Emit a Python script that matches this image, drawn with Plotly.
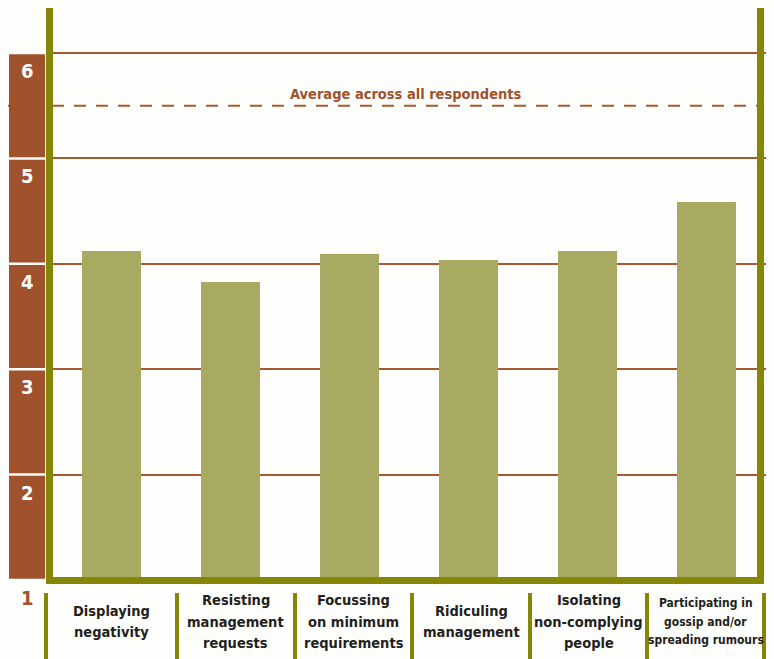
import plotly.graph_objects as go

categories = ["Displaying<br>negativity",
              "Resisting<br>management<br>requests",
              "Focussing<br>on minimum<br>requirements",
              "Ridiculing<br>management",
              "Isolating<br>non-complying<br>people",
              "Participating in<br>gossip and/or<br>spreading rumours"]
values = [4.12, 3.83, 4.09, 4.04, 4.12, 4.59]
average_value = 5.5
average_label = "Average across all respondents"
y_ticks = [1, 2, 3, 4, 5, 6]

W, H = 774, 659
L, R, T, B = 52, 8, 8, 79
PW, PH = W - L - R, H - T - B

def px_x(px):
    return (px - L) / PW

def px_y(py):
    return (H - B - py) / PH

BROWN = "#A0522D"
GRID = "#A65A2E"
OLIVE = "#868606"
BAR = "#A9AA62"
BG = "#FEFEFC"
TEXT = "#231F20"
FONT = "DejaVu Sans Condensed, Liberation Sans Narrow, sans-serif"

xs = list(range(len(categories)))

fig = go.Figure()
fig.add_trace(go.Bar(x=xs, y=values, width=0.5, marker=dict(color=BAR, line=dict(width=0)),
                     hoverinfo="skip"))

shapes = []
annotations = []

# dashed average line (under the brown boxes)
shapes.append(dict(type="line", xref="paper", yref="y", x0=px_x(8), x1=px_x(764),
                   y0=average_value, y1=average_value, layer="above",
                   line=dict(color=GRID, width=2, dash="12px,10px")))
annotations.append(dict(x=px_x(406), y=average_value, xref="paper", yref="y",
                        text=average_label, showarrow=False, yshift=12, xanchor="center",
                        font=dict(family=FONT, size=14.5, color=BROWN, weight="bold")))

# brown tick boxes
for n in y_ticks:
    if n > 1:
        shapes.append(dict(type="rect", xref="paper", yref="y", x0=px_x(9), x1=px_x(45),
                           y0=n - 1 + 0.012, y1=n - 0.012, fillcolor=BROWN,
                           line=dict(width=0), layer="above"))
    annotations.append(dict(x=px_x(27), y=n, xref="paper", yref="y", text=str(n),
                            showarrow=False, yanchor="middle", xanchor="center", yshift=-18,
                            font=dict(family=FONT, size=20,
                                      color="white" if n > 1 else BROWN, weight="bold")))

# olive frame
shapes.append(dict(type="rect", xref="paper", yref="paper", x0=px_x(46), x1=px_x(53),
                   y0=px_y(584), y1=px_y(8), fillcolor=OLIVE, line=dict(width=0), layer="above"))
shapes.append(dict(type="rect", xref="paper", yref="paper", x0=px_x(757), x1=px_x(764),
                   y0=px_y(584), y1=px_y(8), fillcolor=OLIVE, line=dict(width=0), layer="above"))
shapes.append(dict(type="rect", xref="paper", yref="paper", x0=px_x(46), x1=px_x(764),
                   y0=px_y(584), y1=px_y(577), fillcolor=OLIVE, line=dict(width=0), layer="above"))

# category label separators and labels (one annotation per text line)
seps = [46, 177, 295, 412, 530, 647, 764]
for s in seps:
    shapes.append(dict(type="rect", xref="paper", yref="paper", x0=px_x(s - 2), x1=px_x(s + 2),
                       y0=px_y(659), y1=px_y(593), fillcolor=OLIVE, line=dict(width=0)))
for i, c in enumerate(categories):
    cx = (seps[i] + seps[i + 1]) / 2
    last = i == len(categories) - 1
    lines = c.split("<br>")
    step = 18.5 if last else 21.5
    mid = 621.5
    start = mid - step * (len(lines) - 1) / 2
    for k, ln in enumerate(lines):
        annotations.append(dict(x=px_x(cx), y=px_y(start + k * step), xref="paper",
                                yref="paper", text=ln, showarrow=False,
                                yanchor="middle", xanchor="center",
                                font=dict(family=FONT, size=12 if last else 14.5,
                                          color=TEXT, weight="bold")))

fig.update_layout(
    width=W, height=H,
    margin=dict(l=L, r=R, t=T, b=B, pad=0),
    paper_bgcolor=BG, plot_bgcolor=BG,
    showlegend=False,
    bargap=0,
    xaxis=dict(range=[-0.5, 5.5], showticklabels=False, showgrid=False, zeroline=False,
               showline=False, ticks=""),
    yaxis=dict(range=[1, 1 + PH / 105.4], tickvals=[2, 3, 4, 5, 6], showticklabels=False,
               showgrid=True, gridcolor=GRID, gridwidth=2, zeroline=False, showline=False,
               ticks=""),
    shapes=shapes,
    annotations=annotations,
)

fig.write_html("out.html")
